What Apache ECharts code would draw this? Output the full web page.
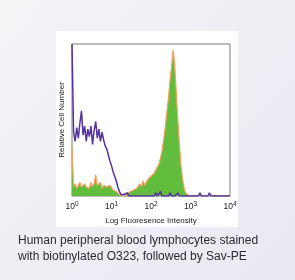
<!DOCTYPE html>
<html><head><meta charset="utf-8">
<script src="https://cdn.jsdelivr.net/npm/echarts@6/dist/echarts.min.js"></script>
<style>html,body{margin:0;padding:0;background:#efedf4;}#c{width:295px;height:280px;}</style>
</head><body><div id="c"></div>
<script>
// log10 decade positions of the tick labels
const tickExponents = [0, 1, 2, 3, 4];
const binWidthLog = 0.04; // histogram channel width in decades
// Stained sample (green fill with orange outline), % of max
const stained = [33,6,8,5,7,9,6,5,8,6,7,5,9,6,8,14,7,6,9,5,7,8,6,5,7,6,4,5,3,2,1,1,0,1,0,2,1,3,2,4,3,5,4,8,6,10,7,9,11,10,13,12,15,16,19,21,25,30,37,45,55,64,76,85,96,86,68,50,34,20,11,5,2,1,0,1,0,1,0,0,0,0,0,0,0,0,0,0,0,0,0,0,0,0,0,0,0,0,0,0,0];
// Isotype control (purple line), % of max
const control = [100,42,36,45,38,48,56,40,46,36,44,39,46,34,43,49,38,44,36,42,37,33,31,27,23,20,16,13,10,6,3,1,0,1,0,2,0,1,0,0,0,0,0,0,0,0,0,0,0,0,0,0,0,2,0,0,3,0,0,0,0,0,2,0,0,0,0,2,0,0,0,0,0,0,0,0,0,0,0,0,0,2,0,0,0,0,0,2,0,0,0,0,0,0,0,0,0,0,0,0,0];
const xTitle = 'Log Fluoresence Intensity';
const yTitle = 'Relative Cell Number';
const caption = 'Human peripheral blood lymphocytes stained\nwith biotinylated O323, followed by Sav-PE';

const FONT = '"Liberation Sans", Arial, sans-serif';
const toXY = arr => arr.map((v, i) => [i * binWidthLog, v]);
const chart = echarts.init(document.getElementById('c'), null, {renderer: 'canvas'});
chart.setOption({
  backgroundColor: {type: 'linear', x: 0, y: 0, x2: 1, y2: 1,
    colorStops: [{offset: 0, color: '#f4f3f6'}, {offset: 1, color: '#ebe8f3'}]},
  animation: false,
  graphic: [
    {type: 'rect', z: -10, shape: {x: 56, y: 31, width: 182, height: 196}, style: {fill: '#ffffff'}},
    {type: 'text', left: 18, top: 233, style: {text: caption, font: '12px ' + FONT, fill: '#2a2a2a', lineHeight: 16}}
  ],
  grid: {left: 72, top: 44, width: 158, height: 152, show: true, borderColor: '#7a7a7a', borderWidth: 1, backgroundColor: 'transparent'},
  xAxis: {
    type: 'value', min: 0, max: 4, interval: 1,
    axisLine: {show: false}, axisTick: {show: false}, splitLine: {show: false},
    axisLabel: {
      margin: 5,
      formatter: v => tickExponents.includes(v) ? '{b|10}{s|' + v + '}' : '',
      rich: {
        b: {fontSize: 8.5, fontFamily: FONT, color: '#222'},
        s: {fontSize: 6.5, fontFamily: FONT, color: '#222', verticalAlign: 'top', padding: [0, 0, 5, 0]}
      }
    },
    name: xTitle, nameLocation: 'middle', nameGap: 21,
    nameTextStyle: {fontSize: 8, fontFamily: FONT, color: '#222'}
  },
  yAxis: {
    type: 'value', min: 0, max: 100,
    axisLine: {show: false}, axisTick: {show: false}, splitLine: {show: false}, axisLabel: {show: false},
    name: yTitle, nameLocation: 'middle', nameGap: 6, nameRotate: 90,
    nameTextStyle: {fontSize: 8, fontFamily: FONT, color: '#222'}
  },
  series: [
    {type: 'line', data: toXY(stained), showSymbol: false, symbol: 'none', z: 2,
     lineStyle: {color: '#f4a263', width: 1.2}, areaStyle: {color: '#62bd3c', opacity: 1}},
    {type: 'line', data: toXY(control), showSymbol: false, symbol: 'none', z: 3,
     lineStyle: {color: '#54329f', width: 1.5}}
  ]
});
</script></body></html>
